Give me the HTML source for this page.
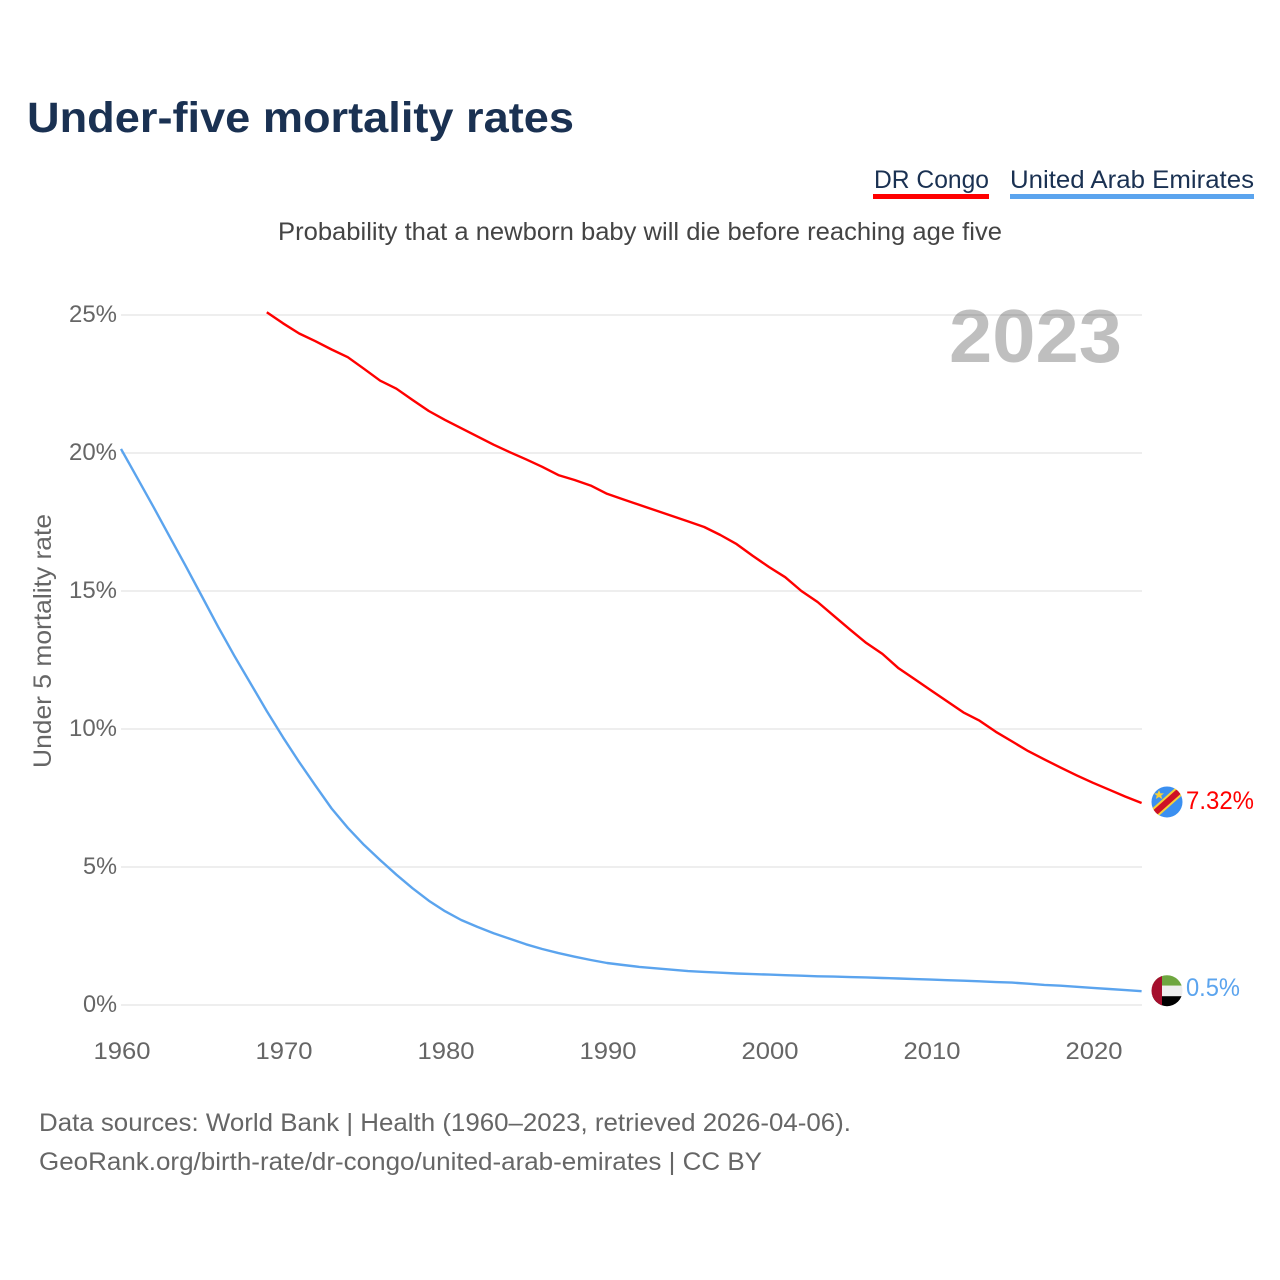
<!DOCTYPE html>
<html lang="en">
<head>
<meta charset="utf-8">
<title>Under-five mortality rates</title>
<style>
html,body{margin:0;padding:0;background:#fff;}
svg{display:block;}
text{font-family:"Liberation Sans",sans-serif;}
</style>
</head>
<body>
<svg id="chart" width="1280" height="1280" viewBox="0 0 1280 1280" xmlns="http://www.w3.org/2000/svg">
  <rect x="0" y="0" width="1280" height="1280" fill="#fff"/>
  <text x="27" y="132" font-size="43" font-weight="700" fill="#1a3152" textLength="547" lengthAdjust="spacingAndGlyphs">Under-five mortality rates</text>

  <g>
    <text x="874" y="188" font-size="25" fill="#1a3152" textLength="115" lengthAdjust="spacingAndGlyphs">DR Congo</text>
    <rect x="873" y="194" width="116" height="5" fill="#ff0000"/>
  </g>
  <g>
    <text x="1010" y="188" font-size="25" fill="#1a3152" textLength="244" lengthAdjust="spacingAndGlyphs">United Arab Emirates</text>
    <rect x="1010" y="194" width="244" height="5" fill="#5ba4ee"/>
  </g>

  <text x="278" y="240" font-size="25" fill="#444" textLength="724" lengthAdjust="spacingAndGlyphs">Probability that a newborn baby will die before reaching age five</text>

  <g id="grid"></g>
  <text x="949" y="362" font-size="75" font-weight="700" fill="#000" fill-opacity="0.25" textLength="173" lengthAdjust="spacingAndGlyphs">2023</text>
  <g id="yTicks"></g>
  <g id="xTicks"></g>
  <text transform="translate(51,641) rotate(-90)" text-anchor="middle" font-size="25" fill="#666" textLength="254" lengthAdjust="spacingAndGlyphs">Under 5 mortality rate</text>

  <path id="lineCongo" fill="none" stroke="#ff0000" stroke-width="2.4" stroke-linejoin="round"/>
  <path id="lineUae" fill="none" stroke="#5ba4ee" stroke-width="2.4" stroke-linejoin="round"/>

  <defs>
    <clipPath id="clipCongoFlag"><circle cx="0" cy="0" r="15.5"/></clipPath>
    <clipPath id="clipUaeFlag"><circle cx="0" cy="0" r="15.5"/></clipPath>
  </defs>

  <g id="flagCongo">
    <g clip-path="url(#clipCongoFlag)">
      <rect x="-16" y="-16" width="32" height="32" fill="#3b8ff0"/>
      <line x1="-18" y1="16" x2="18" y2="-16" stroke="#f7d038" stroke-width="10"/>
      <line x1="-18" y1="16" x2="18" y2="-16" stroke="#ce1126" stroke-width="6"/>
      <polygon points="-8,-12 -6.6,-8.6 -3,-8.6 -5.8,-6.4 -4.8,-3 -8,-5 -11.2,-3 -10.2,-6.4 -13,-8.6 -9.4,-8.6" fill="#f7d038"/>
    </g>
  </g>
  <text id="labelCongo" x="1186" y="808" font-size="25" fill="#ff0000" textLength="68" lengthAdjust="spacingAndGlyphs"></text>

  <g id="flagUae">
    <g clip-path="url(#clipUaeFlag)">
      <rect x="-16" y="-16" width="32" height="11" fill="#6ea63f"/>
      <rect x="-16" y="-5" width="32" height="10.5" fill="#eeeeee"/>
      <rect x="-16" y="5.5" width="32" height="11" fill="#000"/>
      <rect x="-16" y="-16" width="11" height="32" fill="#a50f2d"/>
    </g>
  </g>
  <text id="labelUae" x="1186" y="996" font-size="25" fill="#5ba4ee" textLength="54" lengthAdjust="spacingAndGlyphs"></text>

  <text x="39" y="1131" font-size="25" fill="#666" textLength="812" lengthAdjust="spacingAndGlyphs">Data sources: World Bank | Health (1960–2023, retrieved 2026-04-06).</text>
  <text x="39" y="1170" font-size="25" fill="#666" textLength="723" lengthAdjust="spacingAndGlyphs">GeoRank.org/birth-rate/dr-congo/united-arab-emirates | CC BY</text>
</svg>

<script>
const yTickValues = [0, 5, 10, 15, 20, 25];
const xTickYears = [1960, 1970, 1980, 1990, 2000, 2010, 2020];
const congoStartYear = 1969;
const congoValues = [25.1,24.7,24.33,24.05,23.75,23.47,23.05,22.62,22.33,21.92,21.52,21.2,20.9,20.6,20.3,20.03,19.77,19.5,19.2,19.02,18.82,18.52,18.32,18.12,17.92,17.72,17.52,17.32,17.03,16.7,16.27,15.87,15.5,15.0,14.6,14.1,13.6,13.12,12.72,12.2,11.8,11.4,11.0,10.6,10.3,9.9,9.55,9.2,8.9,8.6,8.32,8.05,7.8,7.55,7.32];
const uaeStartYear = 1960;
const uaeValues = [20.15,19.1,18.05,16.97,15.9,14.8,13.7,12.65,11.65,10.65,9.7,8.8,7.95,7.12,6.42,5.8,5.25,4.72,4.23,3.78,3.4,3.08,2.83,2.6,2.4,2.2,2.03,1.88,1.75,1.63,1.52,1.45,1.38,1.33,1.28,1.23,1.2,1.17,1.14,1.12,1.1,1.08,1.06,1.04,1.03,1.01,1.0,0.98,0.96,0.94,0.92,0.9,0.88,0.86,0.83,0.81,0.77,0.73,0.7,0.66,0.62,0.58,0.54,0.5];

const svgNS = 'http://www.w3.org/2000/svg';
const xScale = (year) => 122 + (year - 1960) * 16.2;
const lineX = (year) => xScale(year) - 1;
const yScale = (v) => 1005 - v * 27.6;

function linePath(startYear, values) {
  return values.map((v, i) => (i ? 'L' : 'M') + lineX(startYear + i).toFixed(1) + ' ' + yScale(v).toFixed(1)).join(' ');
}

const grid = document.getElementById('grid');
const yTicks = document.getElementById('yTicks');
yTickValues.forEach((v) => {
  const gl = document.createElementNS(svgNS, 'line');
  
  
  gl.setAttribute('x1', 121);
  gl.setAttribute('x2', 1142);
  gl.setAttribute('y1', yScale(v));
  gl.setAttribute('y2', yScale(v));
  gl.setAttribute('stroke', '#eeeeee');
  gl.setAttribute('stroke-width', 2);
  grid.appendChild(gl);
  const t = document.createElementNS(svgNS, 'text');
  
  
  t.setAttribute('x', 117);
  t.setAttribute('y', yScale(v) + 7);
  t.setAttribute('text-anchor', 'end');
  t.setAttribute('font-size', 24.5);
  t.setAttribute('fill', '#666');
  t.setAttribute('textLength', v < 10 ? 34 : 48);
  t.setAttribute('lengthAdjust', 'spacingAndGlyphs');
  t.textContent = v + '%';
  yTicks.appendChild(t);
});

const xTicks = document.getElementById('xTicks');
xTickYears.forEach((y) => {
  const t = document.createElementNS(svgNS, 'text');
  
  
  t.setAttribute('x', xScale(y));
  t.setAttribute('y', 1059);
  t.setAttribute('text-anchor', 'middle');
  t.setAttribute('font-size', 24.5);
  t.setAttribute('fill', '#666');
  t.setAttribute('textLength', 57);
  t.setAttribute('lengthAdjust', 'spacingAndGlyphs');
  t.textContent = y;
  xTicks.appendChild(t);
});

document.getElementById('lineCongo').setAttribute('d', linePath(congoStartYear, congoValues));
document.getElementById('lineUae').setAttribute('d', linePath(uaeStartYear, uaeValues));

const congoLast = congoValues[congoValues.length - 1];
const uaeLast = uaeValues[uaeValues.length - 1];
document.getElementById('labelCongo').textContent = congoLast + '%';
document.getElementById('labelUae').textContent = uaeLast + '%';
document.getElementById('labelCongo').setAttribute('y', yScale(congoLast) + 6);
document.getElementById('labelUae').setAttribute('y', yScale(uaeLast) + 5);
document.getElementById('flagCongo').setAttribute('transform', 'translate(1167,' + (yScale(congoLast) - 1) + ')');
document.getElementById('flagUae').setAttribute('transform', 'translate(1167,' + (yScale(uaeLast) - 0.5) + ')');
</script>
</body>
</html>
